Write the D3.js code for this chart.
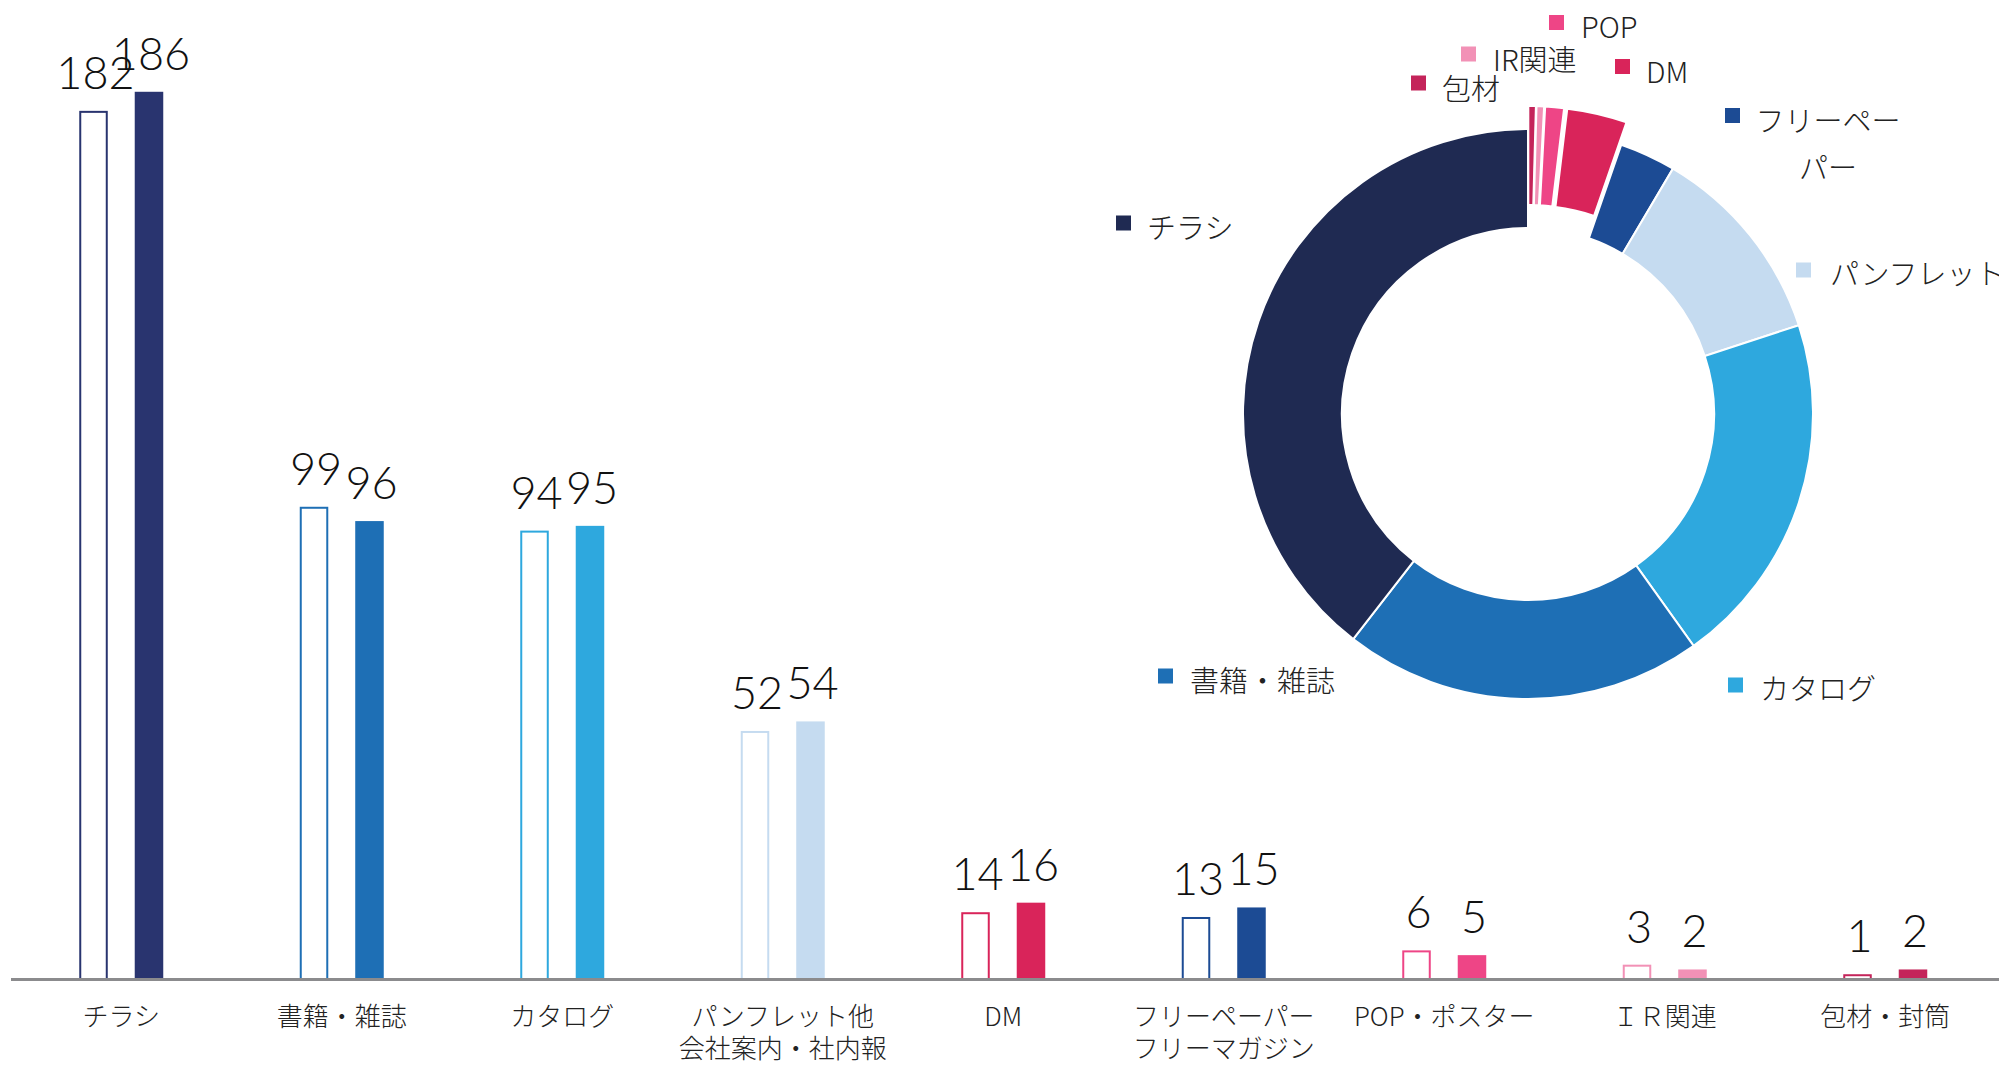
<!DOCTYPE html>
<html>
<head>
<meta charset="utf-8">
<script src="https://cdn.jsdelivr.net/npm/d3@7"></script>
<style>
  html, body { margin: 0; padding: 0; background: #fff; }
  svg { display: block; }
</style>
</head>
<body>
<svg id="chart" width="1999" height="1066"></svg>
<script>
// ---------- data ----------
const categories = ["チラシ", "書籍・雑誌", "カタログ", "パンフレット他\n会社案内・社内報", "DM",
                    "フリーペーパー\nフリーマガジン", "POP・ポスター", "ＩＲ関連", "包材・封筒"];
const prevValues = [182, 99, 94, 52, 14, 13, 6, 3, 1];
const currValues = [186, 96, 95, 54, 16, 15, 5, 2, 2];

const donutLabels = ["包材", "IR関連", "POP", "DM", "フリーペーパー", "パンフレット", "カタログ", "書籍・雑誌", "チラシ"];
const donutValues = [2, 2, 5, 16, 15, 54, 95, 96, 186];

// ---------- styles ----------
const barColors = ["#29346F", "#1E6FB5", "#2EA8DE", "#C5DBF0", "#D9245A", "#1C4B94", "#EE4586", "#F291B6", "#C4245A"];
const donutColors = ["#C4245A", "#F291B6", "#EE4586", "#D9245A", "#1C4B94", "#C5DBF0", "#2EA8DE", "#1E6FB5", "#1F2A52"];
const explodedCount = 4;
// label layout relative to donut centre: [squareX, squareCenterY, textX, textCenterY, anchor]
const donutLabelLayout = [
  [-117, -331, -86, -324.5, "start"],
  [-67, -360, -35, -353.5, "start"],
  [21, -391.5, 53, -386, "start"],
  [87, -347.5, 118, -341.5, "start"],
  [197, -298.5, 300, -292.5, "middle"],
  [268, -144, 302, -139, "start"],
  [200, 271, 232, 276, "start"],
  [-370, 262, -338, 268, "start"],
  [-412, -191, -381, -185, "start"]
];

const jpFont = "'Noto Sans CJK JP', 'Noto Sans', sans-serif";
const numFont = "Lato, 'Open Sans', 'Noto Sans', sans-serif";

const svg = d3.select("#chart");

// ---------- bar chart ----------
const x = d3.scaleBand().domain(categories).range([11, 1995.5]).paddingInner(0).paddingOuter(0);
const series = ["prev", "curr"];
const x1 = d3.scaleBand().domain(series).range([-42, 42]).paddingInner(0.486).paddingOuter(0);
const y = d3.scaleLinear().domain([0, 200]).range([979, 25]);

const rows = categories.map((c, i) => ({ cat: c, i, prev: prevValues[i], curr: currValues[i] }));

const g = svg.append("g");
const groups = g.selectAll("g.cat").data(rows).enter().append("g")
  .attr("class", "cat")
  .attr("transform", d => `translate(${x(d.cat) + x.bandwidth() / 2},0)`);

const bw = x1.bandwidth();
// outline (previous) bars
groups.append("rect")
  .attr("x", x1("prev") + 1)
  .attr("y", d => y(d.prev) + 1)
  .attr("width", bw - 2)
  .attr("height", d => y(0) - y(d.prev) - 1)
  .attr("fill", "#fff")
  .attr("stroke", d => barColors[d.i])
  .attr("stroke-width", 2);
// filled (current) bars
groups.append("rect")
  .attr("x", x1("curr"))
  .attr("y", d => y(d.curr))
  .attr("width", bw)
  .attr("height", d => y(0) - y(d.curr))
  .attr("fill", d => barColors[d.i]);

// value labels
groups.append("text")
  .attr("x", x1("prev") + bw / 2 + 2)
  .attr("y", d => y(d.prev) - 22)
  .attr("text-anchor", "middle")
  .attr("font-family", numFont)
  .attr("font-weight", 300)
  .attr("font-size", 45)
  .attr("fill", "#111")
  .text(d => d.prev);
groups.append("text")
  .attr("x", x1("curr") + bw / 2 + 2)
  .attr("y", d => y(d.curr) - 22)
  .attr("text-anchor", "middle")
  .attr("font-family", numFont)
  .attr("font-weight", 300)
  .attr("font-size", 45)
  .attr("fill", "#111")
  .text(d => d.curr);

// axis
const axis = d3.axisBottom(x).tickSize(0).tickSizeOuter(0).tickFormat("");
const axG = svg.append("g").attr("transform", "translate(0,979.5)").call(axis);
axG.select(".domain").attr("stroke", "#8B8B8D").attr("stroke-width", 3).attr("d", `M11,0H1999`);

// category labels (one text element per line)
const labelLines = [];
rows.forEach(d => d.cat.split("\n").forEach((l, k) => labelLines.push({ cat: d.cat, line: l, k })));
svg.append("g").selectAll("text").data(labelLines).enter().append("text")
  .attr("text-anchor", "middle")
  .attr("font-family", jpFont)
  .attr("font-weight", 300)
  .attr("font-size", 26)
  .attr("fill", "#222")
  .attr("x", d => x(d.cat) + x.bandwidth() / 2)
  .attr("y", d => 1026 + d.k * 32)
  .text(d => d.line);

// ---------- donut ----------
const cx = 1528, cy = 414;
const pie = d3.pie().sort(null).value(d => d.v).startAngle(0).endAngle(2 * Math.PI);
const arc = d3.arc().innerRadius(186).outerRadius(285);
const donutData = pie(donutLabels.map((l, i) => ({ label: l, v: donutValues[i], i })));

const dg = svg.append("g").attr("transform", `translate(${cx},${cy})`);
dg.selectAll("path").data(donutData).enter().append("path")
  .attr("d", arc)
  .attr("fill", d => donutColors[d.data.i])
  .attr("stroke", "#fff")
  .attr("stroke-width", 2)
  .attr("transform", d => {
    if (d.data.i >= explodedCount) return null;
    const a = (d.startAngle + d.endAngle) / 2;
    const off = 23;
    return `translate(${Math.sin(a) * off},${-Math.cos(a) * off})`;
  });

// donut labels
const lg = dg.selectAll("g.lbl").data(donutData).enter().append("g").attr("class", "lbl");
lg.append("rect")
  .attr("x", d => donutLabelLayout[d.data.i][0])
  .attr("y", d => donutLabelLayout[d.data.i][1] - 7.5)
  .attr("width", 15)
  .attr("height", 15)
  .attr("fill", d => donutColors[d.data.i]);
lg.each(function(d) {
  const L = donutLabelLayout[d.data.i];
  const lines = d.data.label === "フリーペーパー" ? ["フリーペー", "パー"] : [d.data.label];
  lines.forEach((line, k) => {
    d3.select(this).append("text")
      .attr("font-family", jpFont)
      .attr("font-weight", 300)
      .attr("font-size", 29)
      .attr("fill", "#222")
      .attr("text-anchor", L[4])
      .attr("x", L[2])
      .attr("y", L[3] + 10 + k * 47)
      .text(line);
  });
});
</script>
</body>
</html>
